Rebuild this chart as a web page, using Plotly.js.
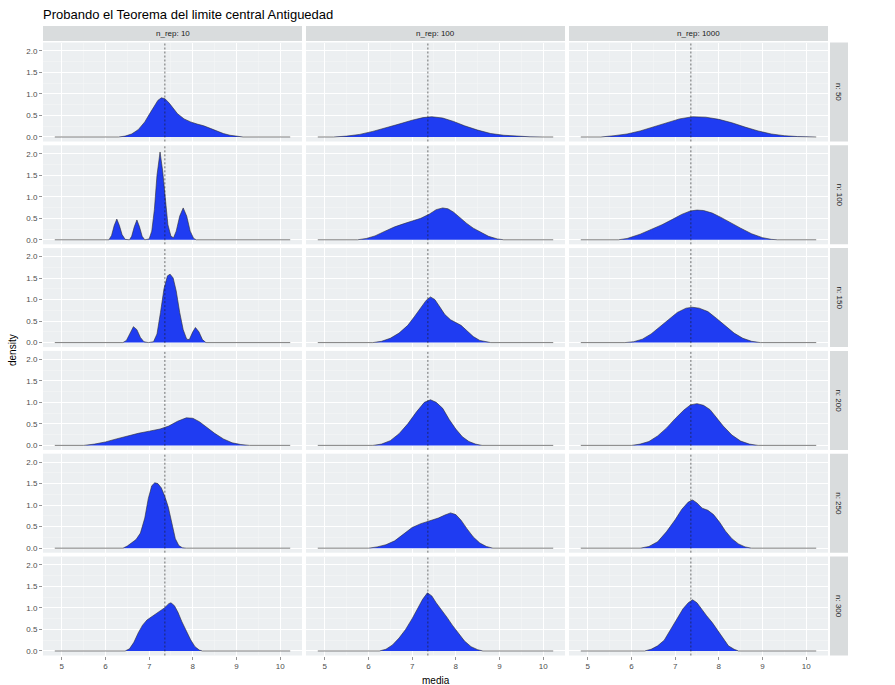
<!DOCTYPE html>
<html><head><meta charset="utf-8">
<script src="https://cdn.plot.ly/plotly-3.0.1.min.js"></script>
<style>html,body{margin:0;padding:0;background:#fff}</style>
</head><body>
<div id="chart" style="width:895px;height:685px"></div>
<script>
// ---- labels ----
const titleText = 'Probando el Teorema del limite central Antiguedad';
const repLabels = ['n_rep: 10', 'n_rep: 100', 'n_rep: 1000'];
const nLabels = ['n: 50', 'n: 100', 'n: 150', 'n: 200', 'n: 250', 'n: 300'];
const xTitle = 'media';
const yTitle = 'density';
const xTickVals = [5, 6, 7, 8, 9, 10];
const xTickText = ['5', '6', '7', '8', '9', '10'];
const yTickVals = [0, 0.5, 1, 1.5, 2];
const yTickText = ['0.0', '0.5', '1.0', '1.5', '2.0'];
const meanLine = 7.36;

// ---- density curves ----
// n = 50
const x_n50_r10 = [4.84, 6.3, 6.45, 6.6, 6.75, 6.9, 7.0, 7.1, 7.2, 7.28, 7.36, 7.45, 7.55, 7.65, 7.8, 7.95, 8.1, 8.25, 8.4, 8.55, 8.7, 8.85, 9.0, 9.15, 10.23];
const y_n50_r10 = [0, 0, 0.02, 0.07, 0.17, 0.35, 0.52, 0.7, 0.85, 0.91, 0.89, 0.8, 0.66, 0.54, 0.42, 0.35, 0.3, 0.26, 0.2, 0.14, 0.08, 0.04, 0.015, 0, 0];
const x_n50_r100 = [4.84, 5.2, 5.5, 5.8, 6.1, 6.4, 6.7, 7.0, 7.25, 7.45, 7.7, 7.95, 8.2, 8.5, 8.8, 9.1, 9.4, 9.7, 10.0, 10.23];
const y_n50_r100 = [0, 0, 0.02, 0.06, 0.13, 0.21, 0.3, 0.39, 0.45, 0.47, 0.44, 0.36, 0.26, 0.16, 0.08, 0.04, 0.015, 0.004, 0, 0];
const x_n50_r1000 = [4.84, 5.3, 5.6, 5.9, 6.2, 6.5, 6.8, 7.1, 7.4, 7.7, 8.0, 8.3, 8.6, 8.9, 9.2, 9.5, 9.8, 10.0, 10.23];
const y_n50_r1000 = [0, 0, 0.03, 0.07, 0.14, 0.23, 0.33, 0.42, 0.47, 0.46, 0.41, 0.33, 0.23, 0.14, 0.07, 0.03, 0.01, 0, 0];
// n = 100
const x_n100_r10 = [4.84, 6.08, 6.14, 6.2, 6.26, 6.32, 6.38, 6.45, 6.55, 6.6, 6.66, 6.72, 6.78, 6.84, 6.9, 7.0, 7.06, 7.12, 7.18, 7.25, 7.31, 7.37, 7.43, 7.5, 7.56, 7.62, 7.7, 7.78, 7.86, 7.94, 8.02, 8.08, 10.23];
const y_n100_r10 = [0, 0, 0.1, 0.33, 0.48, 0.33, 0.12, 0.01, 0, 0.08, 0.3, 0.46, 0.3, 0.08, 0, 0.02, 0.2, 0.7, 1.5, 2.04, 1.6, 0.9, 0.35, 0.08, 0.05, 0.2, 0.55, 0.74, 0.55, 0.2, 0.03, 0, 0];
const x_n100_r100 = [4.84, 5.75, 5.95, 6.15, 6.38, 6.6, 6.8, 7.0, 7.2, 7.4, 7.55, 7.7, 7.82, 7.95, 8.1, 8.25, 8.4, 8.57, 8.75, 8.95, 9.1, 10.23];
const y_n100_r100 = [0, 0, 0.03, 0.09, 0.2, 0.3, 0.37, 0.43, 0.5, 0.6, 0.7, 0.74, 0.72, 0.64, 0.5, 0.38, 0.27, 0.17, 0.08, 0.02, 0, 0];
const x_n100_r1000 = [4.84, 5.7, 5.9, 6.2, 6.45, 6.7, 6.95, 7.15, 7.35, 7.5, 7.65, 7.85, 8.05, 8.25, 8.5, 8.75, 9.0, 9.2, 9.35, 10.23];
const y_n100_r1000 = [0, 0, 0.03, 0.13, 0.24, 0.35, 0.48, 0.59, 0.67, 0.69, 0.68, 0.62, 0.52, 0.4, 0.27, 0.14, 0.05, 0.01, 0, 0];
// n = 150
const x_n150_r10 = [4.84, 6.4, 6.48, 6.56, 6.64, 6.72, 6.8, 6.88, 6.98, 7.1, 7.18, 7.26, 7.34, 7.42, 7.48, 7.55, 7.62, 7.7, 7.78, 7.86, 7.92, 8.0, 8.06, 8.14, 8.22, 8.3, 10.23];
const y_n150_r10 = [0, 0, 0.05, 0.2, 0.37, 0.3, 0.12, 0.02, 0, 0.02, 0.2, 0.7, 1.25, 1.55, 1.59, 1.5, 1.2, 0.7, 0.3, 0.08, 0.07, 0.25, 0.35, 0.25, 0.07, 0, 0];
const x_n150_r100 = [4.84, 6.1, 6.3, 6.5, 6.7, 6.9, 7.05, 7.2, 7.32, 7.42, 7.52, 7.62, 7.75, 7.88, 8.0, 8.12, 8.25, 8.4, 8.55, 8.7, 8.8, 10.23];
const y_n150_r100 = [0, 0, 0.03, 0.1, 0.22, 0.4, 0.6, 0.82, 0.98, 1.06, 1.0, 0.85, 0.65, 0.53, 0.47, 0.4, 0.28, 0.14, 0.05, 0.01, 0, 0];
const x_n150_r1000 = [4.84, 5.85, 6.05, 6.25, 6.45, 6.65, 6.85, 7.05, 7.25, 7.4, 7.55, 7.75, 7.95, 8.15, 8.35, 8.55, 8.75, 8.95, 10.23];
const y_n150_r1000 = [0, 0, 0.02, 0.08, 0.2, 0.36, 0.54, 0.7, 0.8, 0.82, 0.8, 0.72, 0.56, 0.38, 0.22, 0.1, 0.03, 0, 0];
// n = 200
const x_n200_r10 = [4.84, 5.5, 5.75, 6.0, 6.25, 6.5, 6.75, 7.0, 7.25, 7.45, 7.65, 7.85, 8.0, 8.15, 8.3, 8.5, 8.7, 8.9, 9.1, 9.3, 10.23];
const y_n200_r10 = [0, 0, 0.03, 0.08, 0.15, 0.22, 0.28, 0.33, 0.38, 0.45, 0.56, 0.64, 0.63, 0.55, 0.43, 0.28, 0.15, 0.06, 0.02, 0, 0];
const x_n200_r100 = [4.84, 6.1, 6.3, 6.5, 6.7, 6.9, 7.1, 7.28, 7.42, 7.55, 7.7, 7.85, 8.0, 8.15, 8.3, 8.45, 8.6, 10.23];
const y_n200_r100 = [0, 0, 0.03, 0.11, 0.27, 0.5, 0.78, 1.0, 1.06, 1.0, 0.86, 0.6, 0.38, 0.2, 0.09, 0.03, 0, 0];
const x_n200_r1000 = [4.84, 6.0, 6.2, 6.4, 6.6, 6.8, 7.0, 7.2, 7.35, 7.5, 7.65, 7.8, 7.95, 8.1, 8.3, 8.5, 8.7, 8.9, 10.23];
const y_n200_r1000 = [0, 0, 0.03, 0.09, 0.22, 0.4, 0.62, 0.82, 0.94, 0.97, 0.93, 0.83, 0.64, 0.45, 0.24, 0.1, 0.03, 0, 0];
// n = 250
const x_n250_r10 = [4.84, 6.4, 6.5, 6.6, 6.7, 6.8, 6.9, 6.98, 7.06, 7.13, 7.2, 7.28, 7.36, 7.44, 7.52, 7.6, 7.68, 7.76, 7.85, 10.23];
const y_n250_r10 = [0, 0, 0.05, 0.12, 0.2, 0.35, 0.7, 1.15, 1.45, 1.52, 1.5, 1.4, 1.2, 0.95, 0.55, 0.22, 0.06, 0.01, 0, 0];
const x_n250_r100 = [4.84, 6.0, 6.2, 6.4, 6.6, 6.8, 7.0, 7.2, 7.4, 7.6, 7.75, 7.88, 8.0, 8.12, 8.25, 8.4, 8.55, 8.7, 8.85, 10.23];
const y_n250_r100 = [0, 0, 0.03, 0.08, 0.17, 0.33, 0.48, 0.57, 0.63, 0.7, 0.77, 0.82, 0.78, 0.65, 0.46, 0.26, 0.12, 0.04, 0, 0];
const x_n250_r1000 = [4.84, 6.2, 6.4, 6.6, 6.8, 7.0, 7.15, 7.3, 7.4, 7.5, 7.62, 7.75, 7.88, 8.02, 8.15, 8.3, 8.45, 8.6, 8.75, 10.23];
const y_n250_r1000 = [0, 0, 0.04, 0.15, 0.38, 0.66, 0.9, 1.07, 1.12, 1.05, 0.93, 0.88, 0.78, 0.6, 0.4, 0.22, 0.1, 0.03, 0, 0];
// n = 300
const x_n300_r10 = [4.84, 6.45, 6.55, 6.65, 6.75, 6.85, 6.95, 7.05, 7.15, 7.25, 7.35, 7.45, 7.5, 7.58, 7.66, 7.75, 7.85, 7.95, 8.05, 8.15, 8.22, 10.23];
const y_n300_r10 = [0, 0, 0.05, 0.2, 0.42, 0.6, 0.72, 0.8, 0.86, 0.93, 1.0, 1.1, 1.12, 1.05, 0.9, 0.68, 0.45, 0.26, 0.1, 0.02, 0, 0];
const x_n300_r100 = [4.84, 6.25, 6.4, 6.55, 6.7, 6.85, 7.0, 7.12, 7.24, 7.35, 7.45, 7.55, 7.68, 7.8, 7.92, 8.05, 8.2, 8.35, 8.5, 8.62, 10.23];
const y_n300_r100 = [0, 0, 0.04, 0.14, 0.3, 0.5, 0.75, 0.98, 1.2, 1.35, 1.28, 1.12, 0.95, 0.78, 0.6, 0.42, 0.23, 0.1, 0.03, 0, 0];
const x_n300_r1000 = [4.84, 6.3, 6.45, 6.6, 6.75, 6.9, 7.05, 7.18, 7.3, 7.4, 7.5, 7.6, 7.72, 7.85, 7.98, 8.1, 8.22, 8.35, 8.45, 10.23];
const y_n300_r1000 = [0, 0, 0.04, 0.12, 0.25, 0.5, 0.78, 0.98, 1.12, 1.19, 1.12, 0.98, 0.82, 0.66, 0.46, 0.28, 0.12, 0.04, 0, 0];

const panels = [
  [[x_n50_r10, y_n50_r10], [x_n50_r100, y_n50_r100], [x_n50_r1000, y_n50_r1000]],
  [[x_n100_r10, y_n100_r10], [x_n100_r100, y_n100_r100], [x_n100_r1000, y_n100_r1000]],
  [[x_n150_r10, y_n150_r10], [x_n150_r100, y_n150_r100], [x_n150_r1000, y_n150_r1000]],
  [[x_n200_r10, y_n200_r10], [x_n200_r100, y_n200_r100], [x_n200_r1000, y_n200_r1000]],
  [[x_n250_r10, y_n250_r10], [x_n250_r100, y_n250_r100], [x_n250_r1000, y_n250_r1000]],
  [[x_n300_r10, y_n300_r10], [x_n300_r100, y_n300_r100], [x_n300_r1000, y_n300_r1000]]
];

// ---- layout geometry (pixels) ----
const W = 895, H = 685;
const colPx = [[43, 302], [306, 565], [569, 828]];
const rowTop0 = 42.5, rowStep = 102.8, rowH = 99;
const stripTop = [26, 41];
const stripRight = [830, 848];
const panelBg = '#eceff1';
const stripBg = '#d9dcdd';
const fillBlue = '#1f3cf2';

const px = v => v / W;
const py = v => 1 - v / H;

const traces = [];
const layout = {
  width: W, height: H,
  margin: {l: 0, r: 0, t: 0, b: 0},
  paper_bgcolor: '#ffffff',
  plot_bgcolor: panelBg,
  showlegend: false,
  font: {family: 'Liberation Sans, Arial, sans-serif', size: 8, color: '#4d4d4d'},
  title: {text: titleText, x: px(43), xanchor: 'left', y: py(14), yanchor: 'middle',
          font: {size: 13, color: '#000000', family: 'Liberation Sans, Arial, sans-serif'}},
  shapes: [], annotations: []
};

const nRows = panels.length, nCols = 3;
for (let r = 0; r < nRows; r++) {
  const top = rowTop0 + rowStep * r, bot = top + rowH;
  for (let c = 0; c < nCols; c++) {
    const i = r * nCols + c + 1;
    const sx = i === 1 ? '' : String(i);
    const [xs, ys] = panels[r][c];
    traces.push({
      type: 'scatter', mode: 'lines', x: xs, y: ys,
      xaxis: 'x' + sx, yaxis: 'y' + sx,
      fill: 'tozeroy', fillcolor: fillBlue,
      line: {color: '#2b2b2b', width: 0.6},
      hoverinfo: 'skip'
    });
    layout['xaxis' + sx] = {
      domain: [px(colPx[c][0]), px(colPx[c][1])],
      anchor: 'y' + sx,
      range: [4.57, 10.5],
      tickvals: xTickVals, ticktext: xTickText,
      showticklabels: r === nRows - 1,
      ticks: r === nRows - 1 ? 'outside' : '', ticklen: 3, tickcolor: '#4d4d4d', tickwidth: 0.6,
      showgrid: true, gridcolor: '#ffffff', gridwidth: 1,
      minor: {dtick: 0.5, tick0: 0, showgrid: true, gridcolor: '#f6f7f8', gridwidth: 0.5},
      zeroline: false, showline: false,
      tickfont: {size: 8, color: '#4d4d4d'}
    };
    layout['yaxis' + sx] = {
      domain: [py(bot), py(top)],
      anchor: 'x' + sx,
      range: [-0.105, 2.195],
      tickvals: yTickVals, ticktext: yTickText,
      showticklabels: c === 0,
      ticks: c === 0 ? 'outside' : '', ticklen: 3, tickcolor: '#4d4d4d', tickwidth: 0.6,
      showgrid: true, gridcolor: '#ffffff', gridwidth: 1,
      minor: {dtick: 0.25, tick0: 0, showgrid: true, gridcolor: '#f6f7f8', gridwidth: 0.5},
      zeroline: false, showline: false,
      tickfont: {size: 8, color: '#4d4d4d'}
    };
    layout.shapes.push({
      type: 'line', xref: 'x' + sx, yref: 'y' + sx + ' domain',
      x0: meanLine, x1: meanLine, y0: 0, y1: 1, layer: 'above',
      line: {color: '#1a1a1a', width: 0.6, dash: '2px,2px'}
    });
  }
  // right strip
  layout.shapes.push({type: 'rect', xref: 'paper', yref: 'paper', layer: 'below',
    x0: px(stripRight[0]), x1: px(stripRight[1]), y0: py(bot), y1: py(top),
    fillcolor: stripBg, line: {width: 0}});
  layout.annotations.push({xref: 'paper', yref: 'paper', x: px((stripRight[0] + stripRight[1]) / 2),
    y: py((top + bot) / 2), text: nLabels[r], textangle: 90, showarrow: false,
    font: {size: 8, color: '#1a1a1a'}, xanchor: 'center', yanchor: 'middle'});
}
for (let c = 0; c < nCols; c++) {
  layout.shapes.push({type: 'rect', xref: 'paper', yref: 'paper', layer: 'below',
    x0: px(colPx[c][0]), x1: px(colPx[c][1]), y0: py(stripTop[1]), y1: py(stripTop[0]),
    fillcolor: stripBg, line: {width: 0}});
  layout.annotations.push({xref: 'paper', yref: 'paper', x: px((colPx[c][0] + colPx[c][1]) / 2),
    y: py((stripTop[0] + stripTop[1]) / 2), text: repLabels[c], showarrow: false,
    font: {size: 8, color: '#1a1a1a'}, xanchor: 'center', yanchor: 'middle'});
}
layout.annotations.push({xref: 'paper', yref: 'paper', x: px((colPx[0][0] + colPx[2][1]) / 2), y: py(680),
  text: xTitle, showarrow: false, font: {size: 10, color: '#000000'}, xanchor: 'center', yanchor: 'middle'});
layout.annotations.push({xref: 'paper', yref: 'paper', x: px(12), y: py(350),
  text: yTitle, textangle: -90, showarrow: false, font: {size: 10, color: '#000000'}, xanchor: 'center', yanchor: 'middle'});

Plotly.newPlot('chart', traces, layout, {displayModeBar: false, staticPlot: true});
</script>
</body></html>
